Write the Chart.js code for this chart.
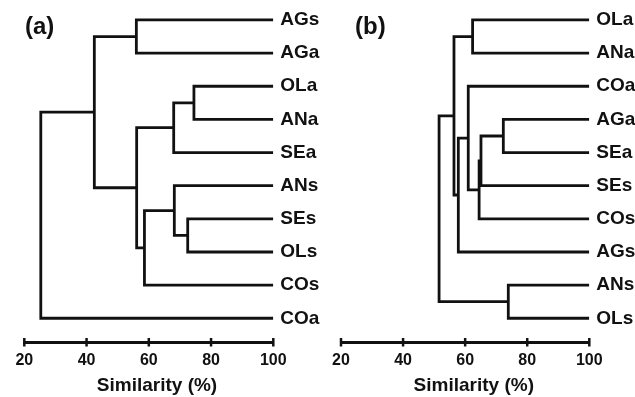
<!DOCTYPE html>
<html>
<head>
<meta charset="utf-8">
<script src="https://cdn.jsdelivr.net/npm/chart.js@4.4.1/dist/chart.umd.min.js"></script>
<style>
  html, body { margin: 0; padding: 0; background: #ffffff; }
  #wrap { position: relative; width: 635px; height: 397px; overflow: hidden; background: #ffffff; }
  .panel { position: absolute; top: 0; height: 397px; }
</style>
</head>
<body>
<div id="wrap">
  <div class="panel" style="left:312px;width:323px"><canvas id="chartB"></canvas></div>
  <div class="panel" style="left:-7px;width:329px"><canvas id="chartA"></canvas></div>
</div>
<script>
// ---------- data ----------
const similarityTicks = [20, 40, 60, 80, 100];
const axisTitle = 'Similarity (%)';

// Panel (a)
const panelLabelA = '(a)';
const leavesA = ['AGs', 'AGa', 'OLa', 'ANa', 'SEa', 'ANs', 'SEs', 'OLs', 'COs', 'COa'];
// merge k joins mergeLeft[k] with mergeRight[k] at mergeSimilarity[k]; 'nK' = result of merge K
const mergeLeftA  = ['AGs', 'OLa', 'n1',  'SEs', 'ANs', 'n4',  'n2', 'n0', 'n7'];
const mergeRightA = ['AGa', 'ANa', 'SEa', 'OLs', 'n3',  'COs', 'n5', 'n6', 'COa'];
const mergeSimilarityA = [56.0, 74.5, 68.0, 72.5, 68.2, 58.6, 56.1, 42.5, 25.3];

// Panel (b)
const panelLabelB = '(b)';
const leavesB = ['OLa', 'ANa', 'COa', 'AGa', 'SEa', 'SEs', 'COs', 'AGs', 'ANs', 'OLs'];
const mergeLeftB  = ['OLa', 'AGa', 'n1',  'n2',  'COa', 'n4',  'n0', 'ANs', 'n6'];
const mergeRightB = ['ANa', 'SEa', 'SEs', 'COs', 'n3',  'AGs', 'n5', 'OLs', 'n7'];
const mergeSimilarityB = [62.4, 72.3, 65.1, 64.5, 61.0, 57.8, 56.4, 73.9, 51.6];

// ---------- styling ----------
const INK = '#111111';
const FONT = "'Liberation Sans', Arial, Helvetica, sans-serif";

// ---------- build dendrogram polylines from the merge table ----------
function buildSegments(leaves, left, right, sims) {
  const pos = {};
  leaves.forEach((name, i) => { pos[name] = { x: 100, y: i }; });
  const segs = [];
  sims.forEach((s, k) => {
    const a = pos[left[k]], b = pos[right[k]];
    segs.push([{ x: a.x, y: a.y }, { x: s, y: a.y }, { x: s, y: b.y }, { x: b.x, y: b.y }]);
    pos['n' + k] = { x: s, y: (a.y + b.y) / 2 };
  });
  return segs;
}

const tickMarkPlugin = {
  id: 'tickMarks',
  afterDraw(chart) {
    const sc = chart.scales.x;
    const ctx = chart.ctx;
    ctx.save();
    ctx.strokeStyle = INK;
    ctx.lineWidth = 2.5;
    ctx.lineCap = 'butt';
    sc.ticks.forEach(t => {
      const px = sc.getPixelForValue(t.value);
      ctx.beginPath();
      ctx.moveTo(px, sc.top - 4);
      ctx.lineTo(px, sc.top + 4.5);
      ctx.stroke();
    });
    ctx.restore();
  }
};

const panelLabelPlugin = {
  id: 'panelLabel',
  afterDraw(chart, args, opts) {
    const ctx = chart.ctx;
    ctx.save();
    ctx.fillStyle = INK;
    ctx.font = 'bold 24px ' + FONT;
    ctx.textBaseline = 'alphabetic';
    ctx.textAlign = 'left';
    ctx.fillText(opts.text, opts.x, opts.y);
    ctx.restore();
  }
};

function makeChart(id, leaves, segs, label, g) {
  return new Chart(document.getElementById(id), {
    type: 'scatter',
    data: {
      datasets: segs.map(s => ({
        data: s,
        showLine: true,
        borderColor: INK,
        borderWidth: 2.8,
        pointRadius: 0,
        pointHoverRadius: 0,
        borderJoinStyle: 'miter',
        borderCapStyle: 'butt',
        fill: false,
        tension: 0
      }))
    },
    options: {
      responsive: true,
      maintainAspectRatio: false,
      animation: false,
      events: [],
      layout: { padding: { left: g.padL, right: g.padR, top: g.padT, bottom: 0 } },
      plugins: {
        legend: { display: false },
        tooltip: { enabled: false },
        title: {
          display: true,
          text: axisTitle,
          position: 'bottom',
          color: INK,
          font: { family: FONT, size: 19, weight: 'bold' },
          padding: { top: 2, bottom: 0 }
        },
        panelLabel: { text: label, x: g.labelX, y: 34.3 }
      },
      scales: {
        x: {
          type: 'linear',
          position: 'bottom',
          min: 20,
          max: 100,
          afterBuildTicks: sc => { sc.ticks = similarityTicks.map(v => ({ value: v })); },
          grid: { display: true, drawOnChartArea: false, drawTicks: false },
          border: { display: true, color: INK, width: 3 },
          ticks: {
            color: INK,
            font: { family: FONT, size: 16, weight: 'bold' },
            padding: 9,
            maxRotation: 0,
            autoSkip: false
          },
          afterFit: sc => { sc.height = g.xH; sc.paddingLeft = 0; sc.paddingRight = 0; }
        },
        y: {
          type: 'linear',
          position: 'right',
          reverse: true,
          min: g.yMin,
          max: g.yMax,
          afterBuildTicks: sc => { sc.ticks = leaves.map((_, i) => ({ value: i })); },
          grid: { display: false, drawTicks: false },
          border: { display: false },
          ticks: {
            color: INK,
            font: { family: FONT, size: 19, weight: 'bold' },
            padding: 7,
            autoSkip: false,
            callback: v => leaves[v]
          },
          afterFit: sc => { sc.width = g.yW; sc.paddingTop = 0; sc.paddingBottom = 0; }
        },
        spacer: {
          type: 'linear',
          position: 'left',
          display: true,
          grid: { display: false, drawTicks: false },
          border: { display: false },
          ticks: { display: false },
          afterFit: sc => { sc.width = g.lW; sc.paddingTop = 0; sc.paddingBottom = 0; }
        }
      }
    },
    plugins: [tickMarkPlugin, panelLabelPlugin]
  });
}

makeChart('chartA', leavesA, buildSegments(leavesA, mergeLeftA, mergeRightA, mergeSimilarityA), panelLabelA,
  { padL: 0, padR: 1, padT: 3.4, lW: 31.3, yW: 47.7, xH: 30.2, yMin: -0.5, yMax: 9.716, labelX: 32 });
makeChart('chartB', leavesB, buildSegments(leavesB, mergeLeftB, mergeRightB, mergeSimilarityB), panelLabelB,
  { padL: 0.6, padR: 0, padT: 3.4, lW: 28.4, yW: 45.7, xH: 30.2, yMin: -0.5, yMax: 9.716, labelX: 43 });
</script>
</body>
</html>
